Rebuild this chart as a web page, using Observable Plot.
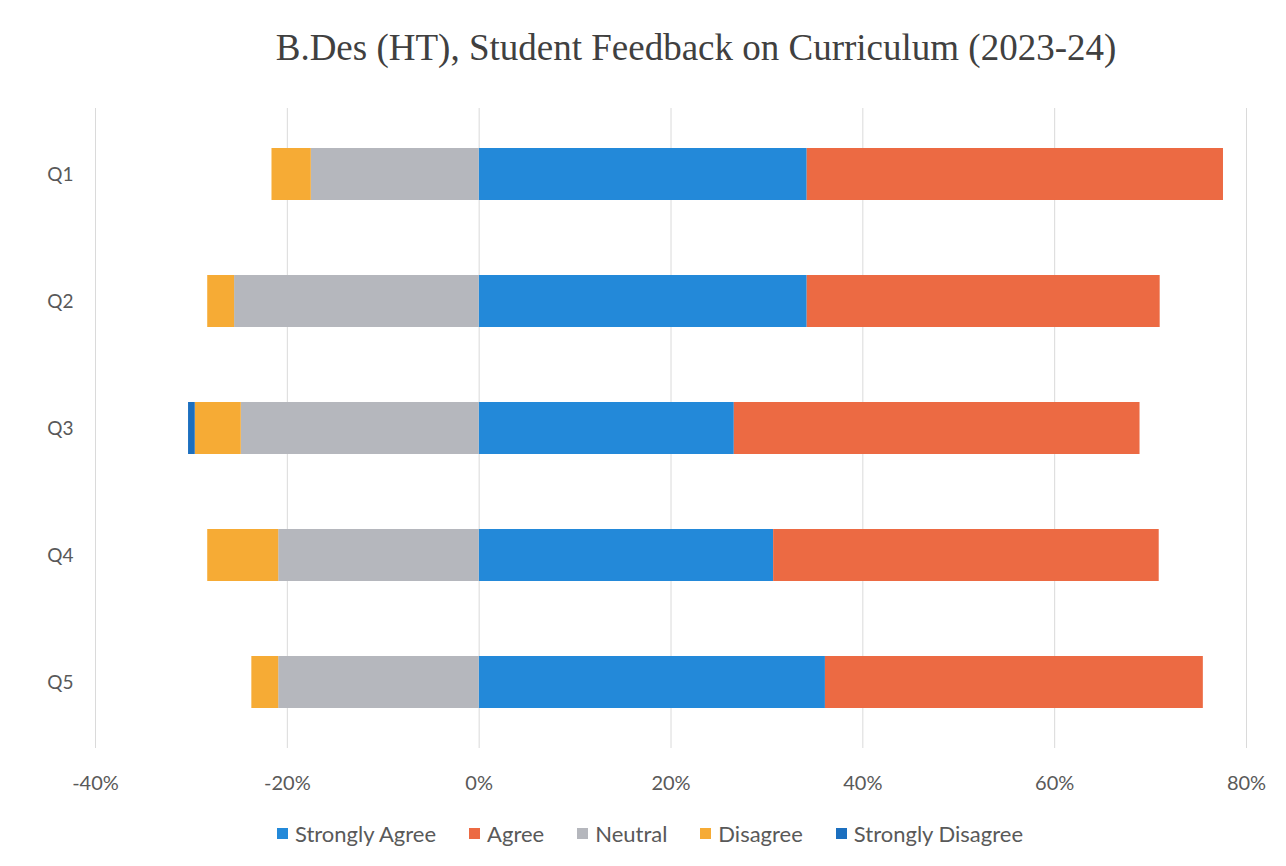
<!DOCTYPE html>
<html>
<head>
<meta charset="utf-8">
<script src="https://cdn.jsdelivr.net/npm/d3@7"></script>
<script src="https://cdn.jsdelivr.net/npm/@observablehq/plot@0.6"></script>
<style>
  body { margin: 0; background: #fff; width: 1286px; height: 866px; overflow: hidden; }
  #title { height: 100px; box-sizing: border-box; padding-top: 24px; padding-left: 106px; text-align: center;
           font-family: "Liberation Serif", "DejaVu Serif", serif; font-size: 37px; line-height: 48px; color: #404040; }
  #legend { display: flex; justify-content: center; align-items: center; gap: 33px; padding-left: 14px;
            height: 50px; font-family: Lato, "Open Sans", sans-serif; font-size: 22px; color: #595959; }
  #legend .item { display: flex; align-items: center; gap: 7px; }
  #legend .sw { width: 11px; height: 11px; display: inline-block; }
</style>
</head>
<body>
<div id="title">B.Des (HT), Student Feedback on Curriculum (2023-24)</div>
<div id="chart"></div>
<div id="legend"></div>
<script>
const questions = ["Q1", "Q2", "Q3", "Q4", "Q5"];
const seriesNames = ["Strongly Agree", "Agree", "Neutral", "Disagree", "Strongly Disagree"];
const seriesColors = ["#2389d9", "#ec6a43", "#b5b7bd", "#f6ab35", "#1c6fbf"];
// percentages per question
const stronglyAgree    = [34.2, 34.2, 26.6, 30.7, 36.1];
const agree            = [43.4, 36.8, 42.3, 40.2, 39.4];
const neutral          = [17.5, 25.5, 24.8, 20.9, 20.9];
const disagree         = [4.1, 2.8, 4.8, 7.4, 2.8];
const stronglyDisagree = [0, 0, 0.7, 0, 0];
const xTicks = [-40, -20, 0, 20, 40, 60, 80];

// positive series go right of zero, negative series go left
const seriesValues = [stronglyAgree, agree, neutral, disagree, stronglyDisagree];
const sign = [1, 1, -1, -1, -1];
const rows = [];
seriesNames.forEach((s, si) => {
  questions.forEach((q, qi) => {
    rows.push({ question: q, series: s, value: sign[si] * seriesValues[si][qi] });
  });
});

const chart = Plot.plot({
  width: 1286,
  height: 708,
  marginTop: 8,
  marginBottom: 60,
  marginLeft: 95,
  marginRight: 40,
  style: { fontFamily: "Lato, 'Open Sans', sans-serif", fontSize: "17px", color: "#595959", background: "#fff" },
  x: { domain: [-40, 80], label: null },
  y: { domain: questions, label: null, paddingInner: 0.594, paddingOuter: 0.3 },
  color: { domain: seriesNames, range: seriesColors },
  marks: [
    Plot.gridX(xTicks, { stroke: "#dadada", strokeOpacity: 1, strokeWidth: 1 }),
    Plot.barX(rows, Plot.stackX({ y: "question", x: "value", fill: "series", order: seriesNames, inset: 0 })),
    Plot.axisX(xTicks, { tickFormat: d => d + "%", tickSize: 0, tickPadding: 27, fontSize: 20, label: null }),
    Plot.axisY({ tickSize: 0, tickPadding: 22, fontSize: 19, label: null })
  ]
});
document.getElementById("chart").appendChild(chart);

const legend = document.getElementById("legend");
seriesNames.forEach((s, i) => {
  const item = document.createElement("span");
  item.className = "item";
  const sw = document.createElement("span");
  sw.className = "sw";
  sw.style.background = seriesColors[i];
  const t = document.createElement("span");
  t.textContent = s;
  item.appendChild(sw);
  item.appendChild(t);
  legend.appendChild(item);
});
</script>
</body>
</html>
